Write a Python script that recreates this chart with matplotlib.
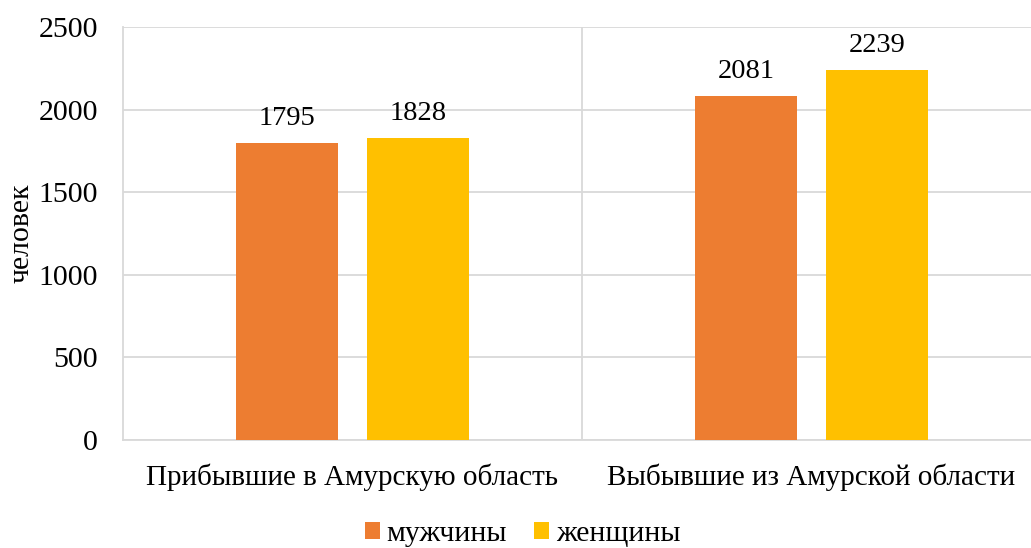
import matplotlib.pyplot as plt
import numpy as np

plt.rcParams['font.family'] = ['Liberation Serif', 'DejaVu Serif']

categories = ['Прибывшие в Амурскую область', 'Выбывшие из Амурской области']
men = [1795, 2081]
women = [1828, 2239]
series_names = ['мужчины', 'женщины']
colors = ['#ED7D31', '#FFC000']
grid_color = '#D9D9D9'

fig = plt.figure(figsize=(10.31, 5.48), dpi=100)
# plot area runs a little past the right edge of the picture, as in the reference
ax = fig.add_axes([123/1031, 1 - 440/548, 918/1031, 413/548])

x = np.arange(len(categories))
w = 0.222
off = 0.143
b1 = ax.bar(x - off, men, w, color=colors[0], label=series_names[0], zorder=3)
b2 = ax.bar(x + off, women, w, color=colors[1], label=series_names[1], zorder=3)

for bars in (b1, b2):
    for r in bars:
        ax.annotate(f'{int(r.get_height())}', (r.get_x() + r.get_width() / 2, r.get_height()),
                    xytext=(0, 9), textcoords='offset points', ha='center', va='bottom',
                    fontsize=20.5)

ax.set_xlim(-0.5, 1.5)
ax.set_ylim(0, 2500)
ax.set_yticks(range(0, 2501, 500))
ax.set_xticks(x)
ax.set_xticklabels(categories, fontsize=21)
ax.tick_params(axis='both', length=0)
ax.tick_params(axis='y', pad=18, labelsize=21.5)
ax.tick_params(axis='x', pad=17)

ax.grid(axis='y', color=grid_color, linewidth=1.3, zorder=0)
ax.axvline(0.5, color=grid_color, linewidth=1.3, zorder=0)
for s in ax.spines.values():
    s.set_color(grid_color)
    s.set_linewidth(1.3)
ax.spines['top'].set_visible(False)

ax.set_ylabel('человек', fontsize=21.5)
ax.yaxis.set_label_coords(-0.096, 0.5)

fig.legend(handles=[b1, b2], labels=series_names, loc='center', bbox_to_anchor=(0.507, 0.026),
           ncol=2, frameon=False, fontsize=21.5, handlelength=0.5, handleheight=0.5,
           handletextpad=0.23, columnspacing=0.9, borderpad=0, borderaxespad=0)

fig.savefig('out.png', dpi=100)
